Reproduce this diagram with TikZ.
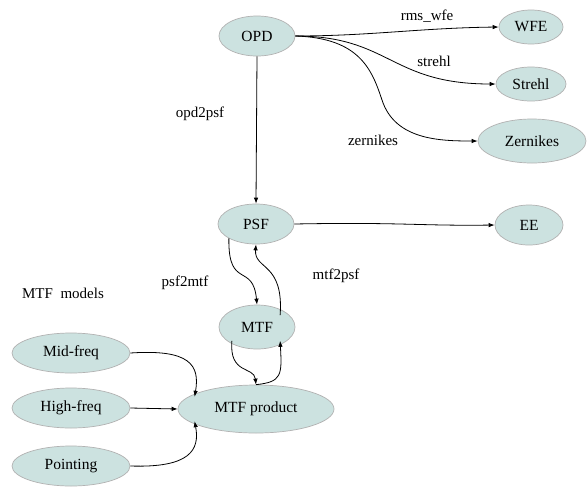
\documentclass[tikz,border=0pt]{standalone}
\usepackage{fontspec}
\setmainfont{Liberation Serif}
\usetikzlibrary{shapes.geometric,arrows.meta,calc}
\begin{document}
\begin{tikzpicture}[x=1pt,y=-1pt,
  blob/.style={ellipse,draw=gray!60,fill={rgb,255:red,204;green,226;blue,224},
    line width=0.7pt,inner sep=0pt,font=\fontsize{15.5}{17}\selectfont},
  edge/.style={-{Latex[length=6pt,width=4.5pt]},line width=0.8pt,black},
  lbl/.style={font=\fontsize{15}{17}\selectfont,inner sep=0pt}]
\useasboundingbox (0,0) rectangle (587,491);
\fill[white] (0,0) rectangle (587,491);

\node[blob,minimum width=76,minimum height=40] (opd) at (257,36) {OPD};
\node[blob,minimum width=64,minimum height=34] (wfe) at (531,27) {WFE};
\node[blob,minimum width=70,minimum height=34] (strehl) at (531,84) {Strehl};
\node[blob,minimum width=108,minimum height=44] (zern) at (532,141) {Zernikes};
\node[blob,minimum width=76,minimum height=40] (psf) at (256,224) {PSF};
\node[blob,minimum width=68,minimum height=40] (ee) at (529,225) {EE};
\node[blob,minimum width=76,minimum height=44] (mtf) at (257,327) {MTF};
\node[blob,minimum width=118,minimum height=40] (mid) at (71,353) {Mid-freq};
\node[blob,minimum width=118,minimum height=40] (high) at (71,408) {High-freq};
\node[blob,minimum width=118,minimum height=40] (point) at (71,466) {Pointing};
\node[blob,minimum width=156,minimum height=48] (prod) at (256,409) {MTF product};

\node[lbl] (l1) at (427,16) {rms\_wfe};
\node[lbl] (l2) at (434,61) {strehl};
\node[lbl] (l3) at (373,140) {zernikes};
\node[lbl] (l4) at (200,114) {opd2psf};
\node[lbl] (l5) at (185,283) {psf2mtf};
\node[lbl] (l6) at (336,276) {mtf2psf};
\node[lbl] (l7) at (63,293) {MTF\ \ models};

% OPD fan-out
\draw[edge] (opd.east) .. controls (370,36) and (420,28) .. (wfe.west);
\draw[edge] (opd.east) .. controls (390,36) and (390,84) .. (strehl.west);
\draw[edge] (opd.east) .. controls (360,38) and (372,70) .. (382,100) .. controls (395,140) and (440,141) .. (zern.west);
\draw[edge] (opd.south) -- (psf.north);
\draw[edge] (psf.east) .. controls (400,222) and (420,226) .. (ee.west);

% PSF <-> MTF
\draw[edge] (psf.south west) .. controls (228,290) and (253,262) .. (mtf.north);
\draw[edge] ($(mtf.north east)+(-4,4)$) .. controls (284,262) and (254,270) .. (psf.south);

% MTF <-> product
\draw[edge] ($(mtf.south west)+(2,-2)$) .. controls (229,375) and (254,366) .. (prod.north);
\draw[edge] (prod.north) .. controls (282,382) and (282,375) .. ($(mtf.south east)+(-4,-2)$);

% models into product
\draw[edge] (mid.east) .. controls (190,349) and (200,365) .. ($(prod.north west)+(-6,5)$);
\draw[edge] (high.east) -- (prod.west);
\draw[edge] (point.east) .. controls (190,468) and (200,450) .. ($(prod.south west)+(-6,-5)$);
\end{tikzpicture}
\end{document}
